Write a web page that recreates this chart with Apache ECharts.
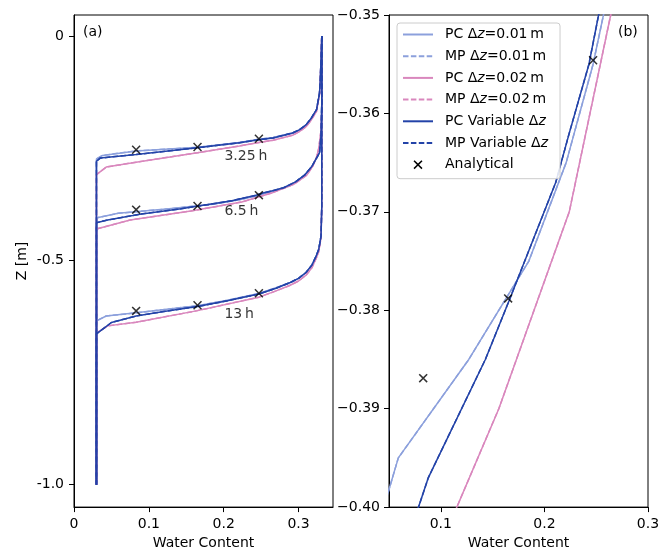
<!DOCTYPE html>
<html>
<head>
<meta charset="utf-8">
<script src="https://cdn.jsdelivr.net/npm/echarts@6/dist/echarts.min.js"></script>
<style>html,body{margin:0;padding:0;background:#fff}#main{width:670px;height:555px}</style>
</head>
<body>
<div id="main"></div>
<script>
// profiles as [water content, z] pairs, one entry per time (3.25 h, 6.5 h, 13 h)
var times = ['3.25\u2009h', '6.5\u2009h', '13\u2009h'];
var timeLabelPos = [[0.201, -0.269], [0.201, -0.390], [0.201, -0.620]];

var pc01 = [
  [[0.331,0],[0.330,-0.053],[0.329,-0.098],[0.328,-0.127],[0.324,-0.164],[0.317,-0.183],[0.310,-0.198],[0.301,-0.209],[0.292,-0.216],[0.266,-0.226],[0.247,-0.230],[0.221,-0.237],[0.165,-0.248],[0.083,-0.256],[0.038,-0.266],[0.030,-0.274],[0.030,-1.0]],
  [[0.331,0],[0.331,-0.15],[0.330,-0.22],[0.328,-0.26],[0.318,-0.29],[0.308,-0.31],[0.296,-0.325],[0.287,-0.335],[0.267,-0.345],[0.247,-0.355],[0.221,-0.365],[0.185,-0.375],[0.127,-0.385],[0.059,-0.395],[0.031,-0.405],[0.030,-1.0]],
  [[0.331,0],[0.331,-0.38],[0.330,-0.446],[0.327,-0.475],[0.3236,-0.49],[0.318,-0.51],[0.310,-0.527],[0.300,-0.54],[0.288,-0.55],[0.270,-0.561],[0.247,-0.574],[0.205,-0.589],[0.165,-0.601],[0.083,-0.617],[0.043,-0.624],[0.030,-0.635],[0.030,-1.0]]
];
var pc02 = [
  [[0.331,0],[0.330,-0.053],[0.329,-0.1],[0.328,-0.13],[0.324,-0.168],[0.317,-0.187],[0.310,-0.202],[0.301,-0.213],[0.292,-0.221],[0.266,-0.232],[0.247,-0.237],[0.221,-0.245],[0.165,-0.260],[0.083,-0.281],[0.043,-0.292],[0.030,-0.309],[0.030,-1.0]],
  [[0.331,0],[0.331,-0.17],[0.330,-0.21],[0.327,-0.25],[0.324,-0.27],[0.319,-0.29],[0.311,-0.31],[0.294,-0.33],[0.264,-0.35],[0.224,-0.37],[0.156,-0.39],[0.075,-0.41],[0.030,-0.43],[0.030,-1.0]],
  [[0.331,0],[0.331,-0.38],[0.330,-0.45],[0.327,-0.48],[0.3236,-0.495],[0.318,-0.516],[0.310,-0.533],[0.300,-0.546],[0.288,-0.556],[0.270,-0.568],[0.247,-0.582],[0.165,-0.612],[0.083,-0.638],[0.045,-0.646],[0.030,-0.662],[0.030,-1.0]]
];
var pcVar = [
  [[0.331,0],[0.330,-0.053],[0.329,-0.098],[0.328,-0.127],[0.324,-0.164],[0.317,-0.183],[0.310,-0.198],[0.301,-0.209],[0.292,-0.216],[0.266,-0.227],[0.247,-0.231],[0.221,-0.238],[0.165,-0.249],[0.083,-0.264],[0.035,-0.272],[0.030,-0.279],[0.030,-1.0]],
  [[0.331,0],[0.331,-0.15],[0.330,-0.22],[0.328,-0.26],[0.318,-0.29],[0.308,-0.31],[0.296,-0.325],[0.280,-0.338],[0.265,-0.345],[0.2523,-0.35],[0.243,-0.355],[0.224,-0.362],[0.211,-0.367],[0.166,-0.379],[0.143,-0.385],[0.088,-0.397],[0.0785,-0.40],[0.045,-0.41],[0.030,-0.416],[0.030,-1.0]],
  [[0.331,0],[0.331,-0.38],[0.330,-0.446],[0.327,-0.475],[0.3236,-0.49],[0.318,-0.51],[0.310,-0.527],[0.300,-0.54],[0.288,-0.55],[0.270,-0.562],[0.247,-0.575],[0.205,-0.590],[0.165,-0.603],[0.120,-0.614],[0.083,-0.624],[0.050,-0.6385],[0.030,-0.664],[0.030,-1.0]]
];
// MP results lie on top of the PC ones
var mp01 = pc01, mp02 = pc02, mpVar = pcVar;

var anTheta = [0.083, 0.165, 0.247];
var anZ = [[-0.2533, -0.2473, -0.2289], [-0.3869, -0.3788, -0.3546], [-0.6126, -0.600, -0.5733]];

var xTicksA = [0, 0.1, 0.2, 0.3];
var yTicksA = [-1, -0.5, 0];
var xTicksB = [0.1, 0.2, 0.3];
var yTicksB = [-0.40, -0.39, -0.38, -0.37, -0.36, -0.35];

var FONT = 'DejaVu Sans';
var C_LIGHT = '#8ca0dc', C_PINK = '#d987bd', C_DARK = '#2343a8';
var XPATH = 'path://M0,1.2L1.2,0L5,3.8L8.8,0L10,1.2L6.2,5L10,8.8L8.8,10L5,6.2L1.2,10L0,8.8L3.8,5Z';

var groups = [
  {name: 'PC \u0394z=0.01\u2009m', color: C_LIGHT, dash: false, data: pc01},
  {name: 'MP \u0394z=0.01\u2009m', color: C_LIGHT, dash: true, data: mp01},
  {name: 'PC \u0394z=0.02\u2009m', color: C_PINK, dash: false, data: pc02},
  {name: 'MP \u0394z=0.02\u2009m', color: C_PINK, dash: true, data: mp02},
  {name: 'PC Variable \u0394z', color: C_DARK, dash: false, data: pcVar},
  {name: 'MP Variable \u0394z', color: C_DARK, dash: true, data: mpVar}
];

var anPoints = [];
anZ.forEach(function (zs) {
  zs.forEach(function (z, i) { anPoints.push([anTheta[i], z]); });
});

var series = [];
[0, 1].forEach(function (g) {
  groups.forEach(function (grp) {
    grp.data.forEach(function (prof) {
      series.push({
        name: grp.name, type: 'line', xAxisIndex: g, yAxisIndex: g,
        data: prof, symbol: 'none', clip: true, silent: true,
        lineStyle: {color: grp.color, width: 1.5, type: grp.dash ? [5.5, 2.4] : 'solid'},
        itemStyle: {color: grp.color}
      });
    });
  });
  series.push({
    name: 'Analytical', type: 'scatter', xAxisIndex: g, yAxisIndex: g,
    data: anPoints, symbol: XPATH, symbolSize: 9, symbolKeepAspect: true, clip: true,
    itemStyle: {color: '#000'}, z: 5
  });
});
series.push({
  type: 'scatter', xAxisIndex: 0, yAxisIndex: 0, symbolSize: 0, silent: true,
  data: timeLabelPos,
  label: {show: true, position: 'right', distance: 0, color: '#000', fontSize: 14, fontFamily: FONT,
    formatter: function (p) { return times[p.dataIndex]; }}
});

function xAxis(g, min, max, ticks) {
  return {
    gridIndex: g, type: 'value', min: min, max: max,
    name: 'Water Content', nameLocation: 'middle', nameGap: 28,
    nameTextStyle: {color: '#000', fontSize: 14, fontFamily: FONT},
    axisLine: {show: true, onZero: false, lineStyle: {color: '#000', width: 1}},
    axisTick: {show: true, length: 5, customValues: ticks, lineStyle: {color: '#000'}},
    axisLabel: {customValues: ticks, color: '#000', fontSize: 14, fontFamily: FONT, margin: 10,
      formatter: function (v) { return v === 0 ? '0' : v.toFixed(1); }},
    splitLine: {show: false}
  };
}

var legendData = groups.map(function (g) { return g.name; });
legendData.push({name: 'Analytical', itemStyle: {opacity: 1}});

var option = {
  animation: false,
  backgroundColor: '#fff',
  title: [
    {text: '(a)', left: 83, top: 25, padding: 0, textStyle: {fontSize: 14, fontWeight: 'normal', color: '#000', fontFamily: FONT}},
    {text: '(b)', left: 618, top: 25, padding: 0, textStyle: {fontSize: 14, fontWeight: 'normal', color: '#000', fontFamily: FONT}}
  ],
  grid: [
    {left: 74, top: 15, width: 259, height: 495, show: true, borderColor: '#000', borderWidth: 1},
    {left: 389, top: 15, width: 259, height: 495, show: true, borderColor: '#000', borderWidth: 1}
  ],
  legend: {
    orient: 'vertical', left: 397, top: 23, itemWidth: 30, itemHeight: 9, itemGap: 7.7,
    padding: [4.5, 12, 7, 5], borderColor: '#ccc', borderWidth: 1, borderRadius: 3,
    backgroundColor: 'rgba(255,255,255,0.85)', selectedMode: false,
    itemStyle: {opacity: 0},
    textStyle: {color: '#000', fontSize: 14, fontFamily: FONT, padding: [0, 0, 0, 7],
      rich: {i: {fontStyle: 'italic', fontSize: 14, fontFamily: FONT, color: '#000'}}},
    formatter: function (name) { return name.replace('\u0394z', '\u0394{i|z}'); },
    data: legendData
  },
  xAxis: [xAxis(0, 0, 0.346, xTicksA), xAxis(1, 0.05, 0.3, xTicksB)],
  yAxis: [
    {
      gridIndex: 0, type: 'value', min: -1.05, max: 0.047,
      name: 'Z [m]', nameLocation: 'middle', nameGap: 45, nameRotate: 90,
      nameTextStyle: {color: '#000', fontSize: 14, fontFamily: FONT},
      axisLine: {show: true, onZero: false, lineStyle: {color: '#000', width: 1}},
      axisTick: {show: true, length: 5, customValues: yTicksA, lineStyle: {color: '#000'}},
      axisLabel: {customValues: yTicksA, color: '#000', fontSize: 14, fontFamily: FONT, margin: 10,
        formatter: function (v) { return v === 0 ? '0' : v.toFixed(1); }},
      splitLine: {show: false}
    },
    {
      gridIndex: 1, type: 'value', min: -0.40, max: -0.35,
      axisLine: {show: true, onZero: false, lineStyle: {color: '#000', width: 1}},
      axisTick: {show: true, length: 5, customValues: yTicksB, lineStyle: {color: '#000'}},
      axisLabel: {customValues: yTicksB, color: '#000', fontSize: 14, fontFamily: FONT, margin: 9,
        showMinLabel: true, showMaxLabel: true,
        formatter: function (v) { return '\u2212' + Math.abs(v).toFixed(2); }},
      splitLine: {show: false}
    }
  ],
  series: series
};

echarts.init(document.getElementById('main')).setOption(option);
</script>
</body>
</html>
